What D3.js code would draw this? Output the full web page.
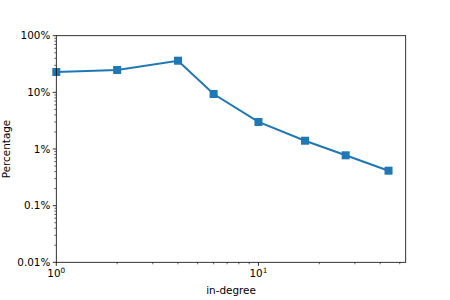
<!DOCTYPE html>
<html>
<head>
<meta charset="utf-8">
<script src="https://cdn.jsdelivr.net/npm/d3@7"></script>
<style>
  body { margin: 0; background: #fff; }
  text { font-family: "DejaVu Sans", sans-serif; }
</style>
</head>
<body>
<svg id="chart" width="450" height="300"></svg>
<script>
// in-degree bins and share of nodes (percent)
var inDegree = [1, 2, 4, 6, 10, 17, 27, 44];
var percentage = [22.9, 24.8, 36.2, 9.35, 3.0, 1.40, 0.774, 0.414];
var yTicks = [0.01, 0.1, 1, 10, 100];
var yTickLabels = ["0.01%", "0.1%", "1%", "10%", "100%"];
var xTicks = [1, 10];

var margin = {left: 56.3, right: 44.3, top: 35.7, bottom: 37.7};
var width = 450 - margin.left - margin.right;
var height = 300 - margin.top - margin.bottom;

var svg = d3.select('#chart');
var g = svg.append('g')
        .attr('transform', 'translate(' + margin.left + ',' + margin.top + ')');

var x = d3.scaleLog().domain([1, 53.5]).range([0, width]);
var y = d3.scaleLog().domain([0.01, 100]).range([height, 0]);

// minor ticks
var xMinor = [];
[1, 10].forEach(function (d) {
    for (var k = 2; k <= 9; k++) {
        if (d * k <= 53.5) xMinor.push(d * k);
    }
});
var yMinor = [];
[0.01, 0.1, 1, 10].forEach(function (d) {
    for (var k = 2; k <= 9; k++) yMinor.push(d * k);
});

var xAxis = g.append('g')
        .attr('transform', 'translate(0,' + height + ')');
xAxis.selectAll('line.minor').data(xMinor).enter().append('line')
        .attr('x1', function (d) { return x(d); })
        .attr('x2', function (d) { return x(d); })
        .attr('y1', 0).attr('y2', 2)
        .attr('stroke', '#000').attr('stroke-width', 0.6);
xAxis.selectAll('line.major').data(xTicks).enter().append('line')
        .attr('x1', function (d) { return x(d); })
        .attr('x2', function (d) { return x(d); })
        .attr('y1', 0).attr('y2', 3.6)
        .attr('stroke', '#000').attr('stroke-width', 0.8);
var xLab = xAxis.selectAll('text.tick').data(xTicks).enter().append('text')
        .attr('x', function (d) { return x(d); })
        .attr('y', 15)
        .attr('text-anchor', 'middle')
        .attr('font-size', 10.4)
        .attr('fill', '#000');
xLab.append('tspan').text('10');
xLab.append('tspan')
        .attr('dy', -4)
        .attr('font-size', 7.3)
        .text(function (d) { return Math.round(Math.log10(d)); });

var yAxis = g.append('g');
yAxis.selectAll('line.minor').data(yMinor).enter().append('line')
        .attr('x1', -2).attr('x2', 0)
        .attr('y1', function (d) { return y(d); })
        .attr('y2', function (d) { return y(d); })
        .attr('stroke', '#000').attr('stroke-width', 0.6);
yAxis.selectAll('line.major').data(yTicks).enter().append('line')
        .attr('x1', -3.6).attr('x2', 0)
        .attr('y1', function (d) { return y(d); })
        .attr('y2', function (d) { return y(d); })
        .attr('stroke', '#000').attr('stroke-width', 0.8);
yAxis.selectAll('text').data(yTicks).enter().append('text')
        .attr('x', -6)
        .attr('y', function (d) { return y(d); })
        .attr('dy', '0.35em')
        .attr('text-anchor', 'end')
        .attr('font-size', 10.4)
        .attr('fill', '#000')
        .text(function (d, i) { return yTickLabels[i]; });

// data line
var line = d3.line()
        .x(function (d, i) { return x(inDegree[i]); })
        .y(function (d) { return y(d); });
g.append('path')
        .datum(percentage)
        .attr('d', line)
        .attr('fill', 'none')
        .attr('stroke', '#1f77b4')
        .attr('stroke-width', 2);
g.selectAll('rect.pt').data(percentage).enter().append('rect')
        .attr('x', function (d, i) { return x(inDegree[i]) - 4; })
        .attr('y', function (d) { return y(d) - 4; })
        .attr('width', 8).attr('height', 8)
        .attr('fill', '#1f77b4');

// frame
g.append('rect')
        .attr('width', width).attr('height', height)
        .attr('fill', 'none')
        .attr('stroke', '#000')
        .attr('stroke-width', 0.8);

svg.append('text')
        .attr('x', margin.left + width / 2)
        .attr('y', 294)
        .attr('text-anchor', 'middle')
        .attr('font-size', 10.4)
        .text('in-degree');
svg.append('text')
        .attr('transform', 'translate(10,' + (margin.top + height / 2) + ') rotate(-90)')
        .attr('text-anchor', 'middle')
        .attr('font-size', 10.4)
        .text('Percentage');
</script>
</body>
</html>
